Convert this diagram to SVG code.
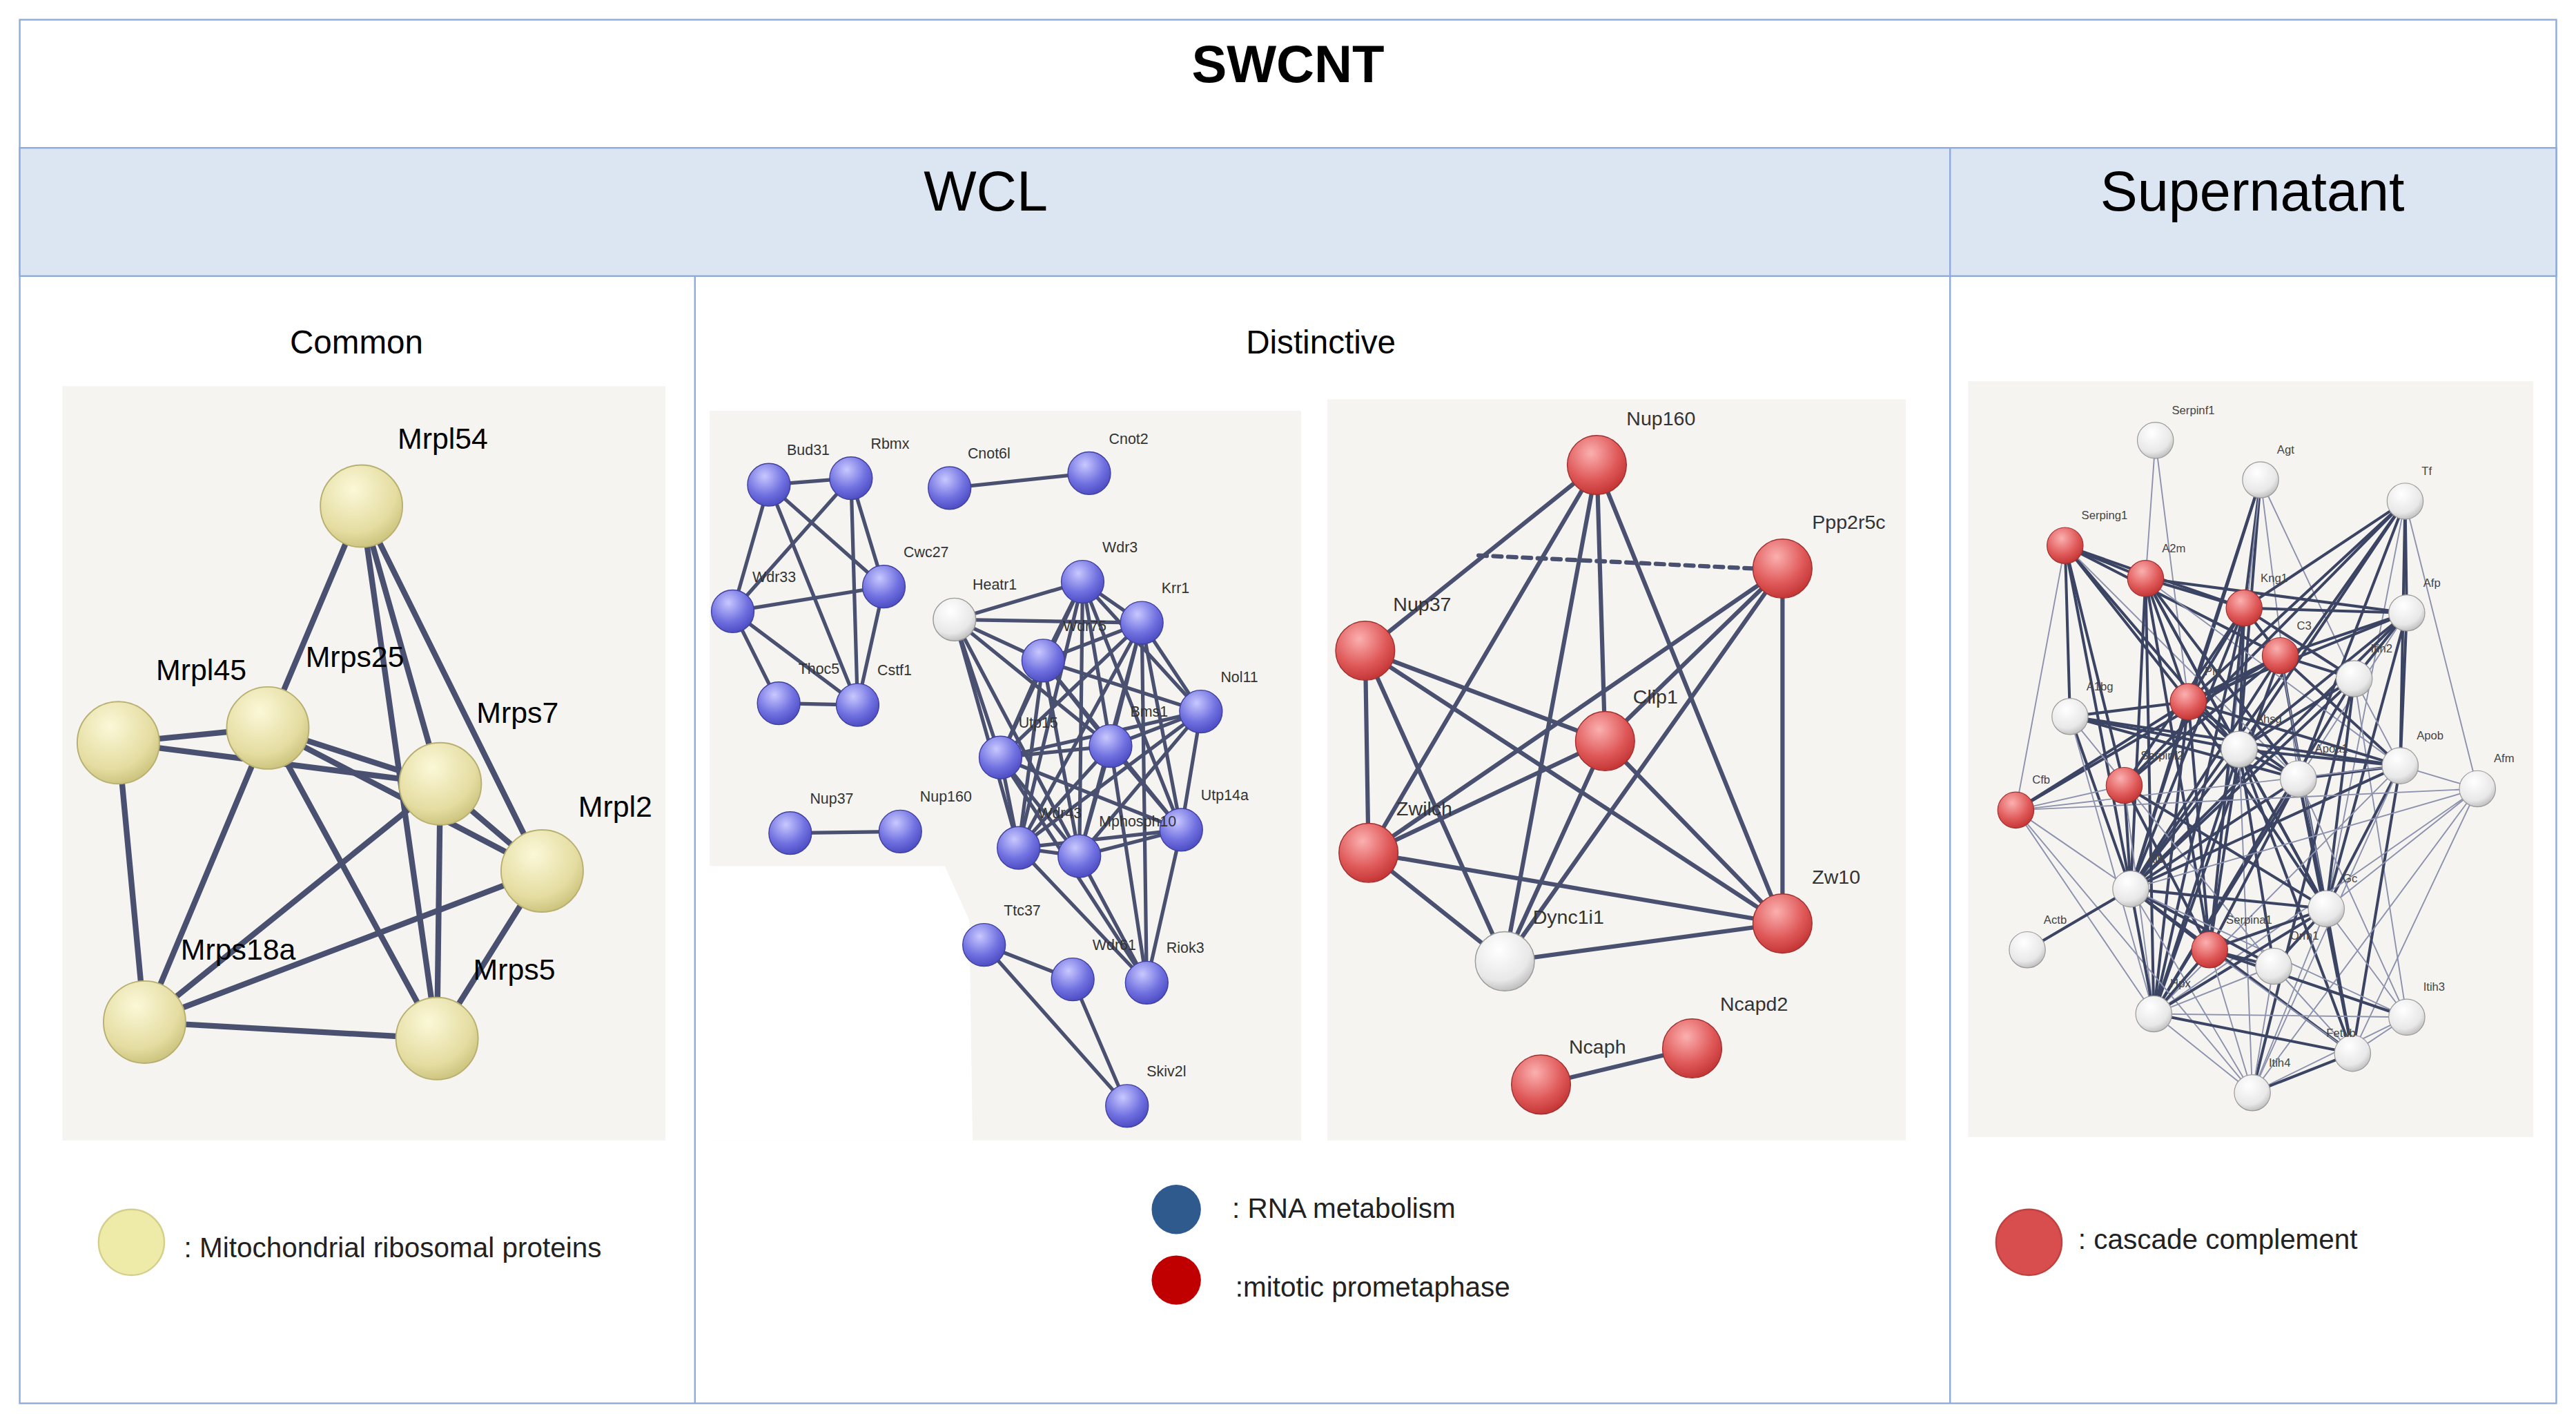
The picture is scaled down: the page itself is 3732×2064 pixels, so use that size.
<svg xmlns="http://www.w3.org/2000/svg" width="3732" height="2064" viewBox="0 0 3732 2064">
<defs>
<radialGradient id="gy" cx="0.4" cy="0.3" r="0.75"><stop offset="0" stop-color="#fbf8d8"/><stop offset="0.7" stop-color="#e4dca0"/><stop offset="1" stop-color="#c8bf78"/></radialGradient>
<radialGradient id="gb" cx="0.4" cy="0.3" r="0.75"><stop offset="0" stop-color="#c8c8ff"/><stop offset="0.6" stop-color="#7070e0"/><stop offset="1" stop-color="#4848c0"/></radialGradient>
<radialGradient id="gr" cx="0.4" cy="0.3" r="0.75"><stop offset="0" stop-color="#fbb0b0"/><stop offset="0.6" stop-color="#e05a5a"/><stop offset="1" stop-color="#c03030"/></radialGradient>
<radialGradient id="gw" cx="0.4" cy="0.3" r="0.75"><stop offset="0" stop-color="#ffffff"/><stop offset="0.7" stop-color="#e8e8e8"/><stop offset="1" stop-color="#b8b8b8"/></radialGradient>
<style>
text{font-family:"Liberation Sans",Arial,sans-serif;fill:#000}
.lb{font-size:9px;fill:#333}
.lr{font-size:12px;fill:#333}
.ls{font-size:7px;fill:#444}
.ly{font-size:17px;fill:#222}
.e{stroke:#4a5070;fill:none;stroke-linecap:round}
.ec{stroke-width:3.5}
.eb{stroke-width:2.2}
.er{stroke-width:2.6}
.st{stroke-width:1.7;stroke:#3c4464}
.sn{stroke-width:0.8;stroke:#8c92ae}
</style>
</defs>
<g transform="scale(2.380102)">
<g id="frame">
<rect x="12" y="12" width="1544" height="842" fill="#fff" stroke="#8eaadb" stroke-width="1"/>
<rect x="12" y="90" width="1544" height="78" fill="#dce6f2" stroke="#8eaadb" stroke-width="1"/>
<line x1="1187" y1="90" x2="1187" y2="854" stroke="#8eaadb"/>
<line x1="423" y1="168" x2="423" y2="854" stroke="#8eaadb"/>
<text x="784" y="50" font-size="32" font-weight="bold" text-anchor="middle">SWCNT</text>
<text x="600" y="128" font-size="34" text-anchor="middle">WCL</text>
<text x="1371" y="128" font-size="34" text-anchor="middle">Supernatant</text>
<text x="217" y="215" font-size="20" text-anchor="middle">Common</text>
<text x="804" y="215" font-size="20" text-anchor="middle">Distinctive</text>
<rect x="38" y="235" width="367" height="459" fill="#f5f4f0"/>
<rect x="432" y="250" width="360" height="444" fill="#f5f4f0"/>
<path d="M432 527 L575 527 L590 560 L592 694 L432 694 Z" fill="#fff"/>
<rect x="808" y="243" width="352" height="451" fill="#f5f4f0"/>
<rect x="1198" y="232" width="344" height="460" fill="#f5f4f0"/>
</g>
<g id="connectors">
<g class="e ec">
<line x1="220" y1="308" x2="163" y2="443"/><line x1="220" y1="308" x2="268" y2="477"/><line x1="220" y1="308" x2="330" y2="530"/><line x1="220" y1="308" x2="266" y2="632"/>
<line x1="72" y1="452" x2="163" y2="443"/><line x1="72" y1="452" x2="268" y2="477"/><line x1="72" y1="452" x2="88" y2="622"/>
<line x1="163" y1="443" x2="268" y2="477"/><line x1="163" y1="443" x2="88" y2="622"/><line x1="163" y1="443" x2="266" y2="632"/><line x1="163" y1="443" x2="330" y2="530"/>
<line x1="268" y1="477" x2="330" y2="530"/><line x1="268" y1="477" x2="266" y2="632"/><line x1="268" y1="477" x2="88" y2="622"/>
<line x1="330" y1="530" x2="88" y2="622"/><line x1="330" y1="530" x2="266" y2="632"/><line x1="88" y1="622" x2="266" y2="632"/>
</g>
<g class="e eb">
<line x1="468" y1="295" x2="518" y2="291"/><line x1="468" y1="295" x2="446" y2="372"/><line x1="468" y1="295" x2="538" y2="357"/><line x1="468" y1="295" x2="522" y2="429"/>
<line x1="518" y1="291" x2="446" y2="372"/><line x1="518" y1="291" x2="538" y2="357"/><line x1="518" y1="291" x2="522" y2="429"/>
<line x1="446" y1="372" x2="538" y2="357"/><line x1="446" y1="372" x2="474" y2="428"/><line x1="446" y1="372" x2="522" y2="429"/>
<line x1="538" y1="357" x2="522" y2="429"/><line x1="474" y1="428" x2="522" y2="429"/>
<line x1="578" y1="297" x2="663" y2="288"/><line x1="481" y1="507" x2="548" y2="506"/>
<line x1="581" y1="377" x2="659" y2="354"/><line x1="581" y1="377" x2="695" y2="379"/><line x1="581" y1="377" x2="635" y2="402"/><line x1="581" y1="377" x2="609" y2="461"/><line x1="581" y1="377" x2="676" y2="454"/><line x1="581" y1="377" x2="620" y2="516"/><line x1="581" y1="377" x2="657" y2="521"/>
<line x1="659" y1="354" x2="695" y2="379"/><line x1="659" y1="354" x2="635" y2="402"/><line x1="659" y1="354" x2="731" y2="433"/><line x1="659" y1="354" x2="609" y2="461"/><line x1="659" y1="354" x2="676" y2="454"/><line x1="659" y1="354" x2="719" y2="505"/><line x1="659" y1="354" x2="620" y2="516"/><line x1="659" y1="354" x2="657" y2="521"/>
<line x1="695" y1="379" x2="635" y2="402"/><line x1="695" y1="379" x2="731" y2="433"/><line x1="695" y1="379" x2="609" y2="461"/><line x1="695" y1="379" x2="676" y2="454"/><line x1="695" y1="379" x2="719" y2="505"/><line x1="695" y1="379" x2="620" y2="516"/><line x1="695" y1="379" x2="657" y2="521"/><line x1="695" y1="379" x2="698" y2="598"/>
<line x1="635" y1="402" x2="731" y2="433"/><line x1="635" y1="402" x2="609" y2="461"/><line x1="635" y1="402" x2="676" y2="454"/><line x1="635" y1="402" x2="719" y2="505"/><line x1="635" y1="402" x2="620" y2="516"/><line x1="635" y1="402" x2="657" y2="521"/>
<line x1="731" y1="433" x2="609" y2="461"/><line x1="731" y1="433" x2="676" y2="454"/><line x1="731" y1="433" x2="719" y2="505"/><line x1="731" y1="433" x2="620" y2="516"/><line x1="731" y1="433" x2="657" y2="521"/>
<line x1="609" y1="461" x2="676" y2="454"/><line x1="609" y1="461" x2="719" y2="505"/><line x1="609" y1="461" x2="620" y2="516"/><line x1="609" y1="461" x2="657" y2="521"/><line x1="609" y1="461" x2="698" y2="598"/>
<line x1="676" y1="454" x2="719" y2="505"/><line x1="676" y1="454" x2="620" y2="516"/><line x1="676" y1="454" x2="657" y2="521"/><line x1="676" y1="454" x2="698" y2="598"/>
<line x1="719" y1="505" x2="620" y2="516"/><line x1="719" y1="505" x2="657" y2="521"/><line x1="719" y1="505" x2="698" y2="598"/>
<line x1="620" y1="516" x2="657" y2="521"/><line x1="620" y1="516" x2="698" y2="598"/><line x1="657" y1="521" x2="698" y2="598"/>
<line x1="599" y1="575" x2="653" y2="596"/><line x1="599" y1="575" x2="686" y2="673"/><line x1="653" y1="596" x2="686" y2="673"/>
</g>
<g class="e er">
<line x1="831" y1="396" x2="972" y2="283"/><line x1="831" y1="396" x2="833" y2="519"/><line x1="831" y1="396" x2="977" y2="451"/><line x1="831" y1="396" x2="1085" y2="562"/><line x1="831" y1="396" x2="916" y2="585"/>
<line x1="972" y1="283" x2="977" y2="451"/><line x1="972" y1="283" x2="833" y2="519"/><line x1="972" y1="283" x2="916" y2="585"/><line x1="972" y1="283" x2="1085" y2="562"/>
<line x1="1085" y1="346" x2="977" y2="451"/><line x1="1085" y1="346" x2="833" y2="519"/><line x1="1085" y1="346" x2="916" y2="585"/><line x1="1085" y1="346" x2="1085" y2="562"/>
<line x1="977" y1="451" x2="833" y2="519"/><line x1="977" y1="451" x2="916" y2="585"/><line x1="977" y1="451" x2="1085" y2="562"/>
<line x1="833" y1="519" x2="916" y2="585"/><line x1="833" y1="519" x2="1085" y2="562"/><line x1="916" y1="585" x2="1085" y2="562"/>
<line x1="938" y1="660" x2="1030" y2="638"/>
<line x1="900" y1="338" x2="1068" y2="346" stroke-dasharray="5 4"/>
</g>
<g class="e">
<line class="sn" x1="1312" y1="268" x2="1306" y2="352"/><line class="sn" x1="1312" y1="268" x2="1332" y2="427"/>
<line class="st" x1="1376" y1="292" x2="1366" y2="370"/><line class="st" x1="1376" y1="292" x2="1332" y2="427"/><line class="st" x1="1376" y1="292" x2="1363" y2="456"/><line class="sn" x1="1376" y1="292" x2="1399" y2="474"/><line class="st" x1="1376" y1="292" x2="1297" y2="541"/><line class="sn" x1="1376" y1="292" x2="1433" y2="413"/><line class="sn" x1="1376" y1="292" x2="1345" y2="578"/>
<line class="st" x1="1464" y1="305" x2="1465" y2="373"/><line class="st" x1="1464" y1="305" x2="1366" y2="370"/><line class="st" x1="1464" y1="305" x2="1332" y2="427"/><line class="st" x1="1464" y1="305" x2="1363" y2="456"/><line class="st" x1="1464" y1="305" x2="1399" y2="474"/><line class="st" x1="1464" y1="305" x2="1297" y2="541"/><line class="sn" x1="1464" y1="305" x2="1416" y2="553"/><line class="sn" x1="1464" y1="305" x2="1508" y2="480"/><line class="st" x1="1464" y1="305" x2="1293" y2="478"/><line class="st" x1="1464" y1="305" x2="1461" y2="466"/>
<line class="st" x1="1257" y1="332" x2="1306" y2="352"/><line class="st" x1="1257" y1="332" x2="1366" y2="370"/><line class="st" x1="1257" y1="332" x2="1388" y2="399"/><line class="st" x1="1257" y1="332" x2="1332" y2="427"/><line class="st" x1="1257" y1="332" x2="1260" y2="436"/><line class="sn" x1="1257" y1="332" x2="1227" y2="493"/><line class="st" x1="1257" y1="332" x2="1293" y2="478"/><line class="st" x1="1257" y1="332" x2="1363" y2="456"/><line class="sn" x1="1257" y1="332" x2="1399" y2="474"/><line class="st" x1="1257" y1="332" x2="1297" y2="541"/>
<line class="st" x1="1306" y1="352" x2="1366" y2="370"/><line class="st" x1="1306" y1="352" x2="1332" y2="427"/><line class="st" x1="1306" y1="352" x2="1297" y2="541"/><line class="st" x1="1306" y1="352" x2="1363" y2="456"/><line class="st" x1="1306" y1="352" x2="1399" y2="474"/><line class="st" x1="1306" y1="352" x2="1345" y2="578"/><line class="st" x1="1306" y1="352" x2="1311" y2="617"/><line class="st" x1="1306" y1="352" x2="1465" y2="373"/><line class="sn" x1="1306" y1="352" x2="1461" y2="466"/><line class="st" x1="1306" y1="352" x2="1416" y2="553"/>
<line class="st" x1="1366" y1="370" x2="1388" y2="399"/><line class="st" x1="1366" y1="370" x2="1332" y2="427"/><line class="st" x1="1366" y1="370" x2="1297" y2="541"/><line class="st" x1="1366" y1="370" x2="1293" y2="478"/><line class="st" x1="1366" y1="370" x2="1363" y2="456"/><line class="st" x1="1366" y1="370" x2="1465" y2="373"/><line class="st" x1="1366" y1="370" x2="1433" y2="413"/><line class="st" x1="1366" y1="370" x2="1311" y2="617"/><line class="st" x1="1366" y1="370" x2="1345" y2="578"/>
<line class="st" x1="1388" y1="399" x2="1332" y2="427"/><line class="st" x1="1388" y1="399" x2="1227" y2="493"/><line class="st" x1="1388" y1="399" x2="1465" y2="373"/><line class="st" x1="1388" y1="399" x2="1461" y2="466"/><line class="st" x1="1388" y1="399" x2="1297" y2="541"/><line class="st" x1="1388" y1="399" x2="1416" y2="553"/><line class="st" x1="1388" y1="399" x2="1433" y2="413"/><line class="sn" x1="1388" y1="399" x2="1432" y2="641"/><line class="st" x1="1388" y1="399" x2="1293" y2="478"/><line class="st" x1="1388" y1="399" x2="1311" y2="617"/>
<line class="st" x1="1465" y1="373" x2="1297" y2="541"/><line class="st" x1="1465" y1="373" x2="1461" y2="466"/><line class="st" x1="1465" y1="373" x2="1433" y2="413"/><line class="st" x1="1465" y1="373" x2="1363" y2="456"/><line class="st" x1="1465" y1="373" x2="1416" y2="553"/><line class="st" x1="1465" y1="373" x2="1332" y2="427"/><line class="sn" x1="1465" y1="373" x2="1399" y2="474"/>
<line class="st" x1="1433" y1="413" x2="1371" y2="665"/><line class="sn" x1="1433" y1="413" x2="1465" y2="619"/><line class="st" x1="1433" y1="413" x2="1297" y2="541"/><line class="st" x1="1433" y1="413" x2="1363" y2="456"/><line class="st" x1="1433" y1="413" x2="1311" y2="617"/><line class="sn" x1="1433" y1="413" x2="1461" y2="466"/><line class="st" x1="1433" y1="413" x2="1416" y2="553"/>
<line class="st" x1="1332" y1="427" x2="1260" y2="436"/><line class="st" x1="1332" y1="427" x2="1297" y2="541"/><line class="st" x1="1332" y1="427" x2="1345" y2="578"/><line class="st" x1="1332" y1="427" x2="1363" y2="456"/><line class="st" x1="1332" y1="427" x2="1399" y2="474"/><line class="st" x1="1332" y1="427" x2="1461" y2="466"/><line class="st" x1="1332" y1="427" x2="1227" y2="493"/><line class="st" x1="1332" y1="427" x2="1416" y2="553"/><line class="st" x1="1332" y1="427" x2="1311" y2="617"/>
<line class="st" x1="1260" y1="436" x2="1297" y2="541"/><line class="st" x1="1260" y1="436" x2="1363" y2="456"/><line class="st" x1="1260" y1="436" x2="1399" y2="474"/><line class="sn" x1="1260" y1="436" x2="1311" y2="617"/><line class="sn" x1="1260" y1="436" x2="1384" y2="588"/><line class="st" x1="1260" y1="436" x2="1461" y2="466"/>
<line class="st" x1="1363" y1="456" x2="1399" y2="474"/><line class="st" x1="1363" y1="456" x2="1461" y2="466"/><line class="st" x1="1363" y1="456" x2="1297" y2="541"/><line class="st" x1="1363" y1="456" x2="1416" y2="553"/><line class="st" x1="1363" y1="456" x2="1311" y2="617"/><line class="st" x1="1363" y1="456" x2="1432" y2="641"/><line class="st" x1="1363" y1="456" x2="1384" y2="588"/><line class="st" x1="1363" y1="456" x2="1345" y2="578"/><line class="sn" x1="1363" y1="456" x2="1371" y2="665"/>
<line class="st" x1="1399" y1="474" x2="1461" y2="466"/><line class="st" x1="1399" y1="474" x2="1297" y2="541"/><line class="st" x1="1399" y1="474" x2="1416" y2="553"/><line class="st" x1="1399" y1="474" x2="1311" y2="617"/><line class="sn" x1="1399" y1="474" x2="1465" y2="619"/><line class="st" x1="1399" y1="474" x2="1432" y2="641"/><line class="st" x1="1399" y1="474" x2="1345" y2="578"/>
<line class="sn" x1="1461" y1="466" x2="1508" y2="480"/><line class="st" x1="1461" y1="466" x2="1297" y2="541"/><line class="st" x1="1461" y1="466" x2="1416" y2="553"/><line class="sn" x1="1461" y1="466" x2="1311" y2="617"/><line class="sn" x1="1461" y1="466" x2="1371" y2="665"/><line class="st" x1="1461" y1="466" x2="1432" y2="641"/>
<line class="sn" x1="1508" y1="480" x2="1297" y2="541"/><line class="sn" x1="1508" y1="480" x2="1416" y2="553"/><line class="sn" x1="1508" y1="480" x2="1311" y2="617"/><line class="sn" x1="1508" y1="480" x2="1371" y2="665"/><line class="sn" x1="1508" y1="480" x2="1432" y2="641"/><line class="sn" x1="1508" y1="480" x2="1227" y2="493"/>
<line class="sn" x1="1227" y1="493" x2="1293" y2="478"/><line class="sn" x1="1227" y1="493" x2="1297" y2="541"/><line class="sn" x1="1227" y1="493" x2="1311" y2="617"/><line class="sn" x1="1227" y1="493" x2="1461" y2="466"/><line class="sn" x1="1227" y1="493" x2="1371" y2="665"/>
<line class="st" x1="1293" y1="478" x2="1297" y2="541"/><line class="st" x1="1293" y1="478" x2="1345" y2="578"/><line class="st" x1="1293" y1="478" x2="1416" y2="553"/><line class="sn" x1="1293" y1="478" x2="1311" y2="617"/>
<line class="st" x1="1297" y1="541" x2="1234" y2="578"/><line class="st" x1="1297" y1="541" x2="1416" y2="553"/><line class="st" x1="1297" y1="541" x2="1345" y2="578"/><line class="st" x1="1297" y1="541" x2="1384" y2="588"/><line class="st" x1="1297" y1="541" x2="1311" y2="617"/><line class="sn" x1="1297" y1="541" x2="1371" y2="665"/><line class="st" x1="1297" y1="541" x2="1432" y2="641"/><line class="sn" x1="1297" y1="541" x2="1465" y2="619"/>
<line class="st" x1="1416" y1="553" x2="1345" y2="578"/><line class="st" x1="1416" y1="553" x2="1384" y2="588"/><line class="st" x1="1416" y1="553" x2="1311" y2="617"/><line class="sn" x1="1416" y1="553" x2="1465" y2="619"/><line class="st" x1="1416" y1="553" x2="1432" y2="641"/><line class="sn" x1="1416" y1="553" x2="1371" y2="665"/>
<line class="st" x1="1345" y1="578" x2="1311" y2="617"/><line class="st" x1="1345" y1="578" x2="1384" y2="588"/><line class="sn" x1="1345" y1="578" x2="1432" y2="641"/><line class="sn" x1="1345" y1="578" x2="1371" y2="665"/><line class="st" x1="1345" y1="578" x2="1465" y2="619"/>
<line class="sn" x1="1384" y1="588" x2="1311" y2="617"/><line class="sn" x1="1384" y1="588" x2="1371" y2="665"/><line class="sn" x1="1384" y1="588" x2="1432" y2="641"/>
<line class="sn" x1="1311" y1="617" x2="1371" y2="665"/><line class="st" x1="1311" y1="617" x2="1432" y2="641"/><line class="sn" x1="1311" y1="617" x2="1465" y2="619"/>
<line class="sn" x1="1465" y1="619" x2="1371" y2="665"/><line class="sn" x1="1465" y1="619" x2="1432" y2="641"/><line class="st" x1="1432" y1="641" x2="1371" y2="665"/>
</g>
</g>
<g id="common-nodes">
<g fill="url(#gy)" stroke="#b8b070" stroke-width="0.8">
<circle cx="220" cy="308" r="25"/><circle cx="72" cy="452" r="25"/><circle cx="163" cy="443" r="25"/><circle cx="268" cy="477" r="25"/><circle cx="330" cy="530" r="25"/><circle cx="88" cy="622" r="25"/><circle cx="266" cy="632" r="25"/>
</g>
<g font-size="18" style="font-size:18px">
<text x="242" y="273" style="font-size:18px">Mrpl54</text><text x="95" y="414" style="font-size:18px">Mrpl45</text><text x="186" y="406" style="font-size:18px">Mrps25</text><text x="290" y="440" style="font-size:18px">Mrps7</text><text x="352" y="497" style="font-size:18px">Mrpl2</text><text x="110" y="584" style="font-size:18px">Mrps18a</text><text x="288" y="596" style="font-size:18px">Mrps5</text>
</g>
</g>
<g id="distinctive-rna-nodes">
<g fill="url(#gb)" stroke="#4040a0" stroke-width="0.6">
<circle cx="468" cy="295" r="13"/><circle cx="518" cy="291" r="13"/><circle cx="578" cy="297" r="13"/><circle cx="663" cy="288" r="13"/><circle cx="446" cy="372" r="13"/><circle cx="538" cy="357" r="13"/><circle cx="659" cy="354" r="13"/><circle cx="695" cy="379" r="13"/><circle cx="635" cy="402" r="13"/><circle cx="474" cy="428" r="13"/><circle cx="522" cy="429" r="13"/><circle cx="731" cy="433" r="13"/><circle cx="609" cy="461" r="13"/><circle cx="676" cy="454" r="13"/><circle cx="481" cy="507" r="13"/><circle cx="548" cy="506" r="13"/><circle cx="719" cy="505" r="13"/><circle cx="620" cy="516" r="13"/><circle cx="657" cy="521" r="13"/><circle cx="599" cy="575" r="13"/><circle cx="653" cy="596" r="13"/><circle cx="698" cy="598" r="13"/><circle cx="686" cy="673" r="13"/>
</g>
<circle cx="581" cy="377" r="13" fill="url(#gw)" stroke="#999" stroke-width="0.6"/>
<text class="lb" x="479" y="277">Bud31</text><text class="lb" x="530" y="273">Rbmx</text><text class="lb" x="589" y="279">Cnot6l</text><text class="lb" x="675" y="270">Cnot2</text><text class="lb" x="458" y="354">Wdr33</text><text class="lb" x="550" y="339">Cwc27</text><text class="lb" x="592" y="359">Heatr1</text><text class="lb" x="671" y="336">Wdr3</text><text class="lb" x="707" y="361">Krr1</text><text class="lb" x="647" y="384">Wdr75</text><text class="lb" x="486" y="410">Thoc5</text><text class="lb" x="534" y="411">Cstf1</text><text class="lb" x="743" y="415">Nol11</text><text class="lb" x="620" y="443">Utp15</text><text class="lb" x="688" y="436">Bms1</text><text class="lb" x="493" y="489">Nup37</text><text class="lb" x="560" y="488">Nup160</text><text class="lb" x="731" y="487">Utp14a</text><text class="lb" x="632" y="498">Wdr43</text><text class="lb" x="669" y="503">Mphosph10</text><text class="lb" x="611" y="557">Ttc37</text><text class="lb" x="665" y="578">Wdr61</text><text class="lb" x="710" y="580">Riok3</text><text class="lb" x="698" y="655">Skiv2l</text>
</g>
<g id="distinctive-mitotic-nodes">
<g fill="url(#gr)" stroke="#a03030" stroke-width="0.6">
<circle cx="972" cy="283" r="18"/><circle cx="1085" cy="346" r="18"/><circle cx="831" cy="396" r="18"/><circle cx="977" cy="451" r="18"/><circle cx="833" cy="519" r="18"/><circle cx="1085" cy="562" r="18"/><circle cx="938" cy="660" r="18"/><circle cx="1030" cy="638" r="18"/>
</g>
<circle cx="916" cy="585" r="18" fill="url(#gw)" stroke="#999" stroke-width="0.6"/>
<text class="lr" x="990" y="259">Nup160</text><text class="lr" x="1103" y="322">Ppp2r5c</text><text class="lr" x="848" y="372">Nup37</text><text class="lr" x="994" y="428">Clip1</text><text class="lr" x="850" y="496">Zwilch</text><text class="lr" x="1103" y="538">Zw10</text><text class="lr" x="933" y="562">Dync1i1</text><text class="lr" x="955" y="641">Ncaph</text><text class="lr" x="1047" y="615">Ncapd2</text>
</g>
<g id="supernatant-nodes">
<g fill="url(#gw)" stroke="#999" stroke-width="0.5">
<circle cx="1312" cy="268" r="11"/><circle cx="1376" cy="292" r="11"/><circle cx="1464" cy="305" r="11"/><circle cx="1465" cy="373" r="11"/><circle cx="1433" cy="413" r="11"/><circle cx="1260" cy="436" r="11"/><circle cx="1363" cy="456" r="11"/><circle cx="1399" cy="474" r="11"/><circle cx="1461" cy="466" r="11"/><circle cx="1508" cy="480" r="11"/><circle cx="1297" cy="541" r="11"/><circle cx="1416" cy="553" r="11"/><circle cx="1234" cy="578" r="11"/><circle cx="1384" cy="588" r="11"/><circle cx="1311" cy="617" r="11"/><circle cx="1465" cy="619" r="11"/><circle cx="1432" cy="641" r="11"/><circle cx="1371" cy="665" r="11"/>
</g>
<g fill="url(#gr)" stroke="#a03030" stroke-width="0.5">
<circle cx="1257" cy="332" r="11"/><circle cx="1306" cy="352" r="11"/><circle cx="1366" cy="370" r="11"/><circle cx="1388" cy="399" r="11"/><circle cx="1332" cy="427" r="11"/><circle cx="1227" cy="493" r="11"/><circle cx="1293" cy="478" r="11"/><circle cx="1345" cy="578" r="11"/>
</g>
<text class="ls" x="1322" y="252">Serpinf1</text><text class="ls" x="1386" y="276">Agt</text><text class="ls" x="1474" y="289">Tf</text><text class="ls" x="1267" y="316">Serping1</text><text class="ls" x="1316" y="336">A2m</text><text class="ls" x="1376" y="354">Kng1</text><text class="ls" x="1398" y="383">C3</text><text class="ls" x="1475" y="357">Afp</text><text class="ls" x="1443" y="397">Itih2</text><text class="ls" x="1342" y="411">Plg</text><text class="ls" x="1270" y="420">A1bg</text><text class="ls" x="1373" y="440">Ahsg</text><text class="ls" x="1409" y="458">Apoa1</text><text class="ls" x="1471" y="450">Apob</text><text class="ls" x="1518" y="464">Afm</text><text class="ls" x="1237" y="477">Cfb</text><text class="ls" x="1303" y="462">Serpinf2</text><text class="ls" x="1307" y="525">Alb</text><text class="ls" x="1426" y="537">Gc</text><text class="ls" x="1244" y="562">Actb</text><text class="ls" x="1355" y="562">Serpina1</text><text class="ls" x="1394" y="572">Orm1</text><text class="ls" x="1321" y="601">Hpx</text><text class="ls" x="1475" y="603">Itih3</text><text class="ls" x="1416" y="631">Fetub</text><text class="ls" x="1381" y="649">Itih4</text>
</g>
<g id="legends">
<circle cx="80" cy="756" r="20" fill="#eeeaa8" stroke="#d4cf8a"/>
<text class="ly" x="112" y="765">: Mitochondrial ribosomal proteins</text>
<circle cx="716" cy="736" r="15" fill="#2e5a8e"/>
<text class="ly" x="750" y="741">:  RNA metabolism</text>
<circle cx="716" cy="779" r="15" fill="#c00000"/>
<text class="ly" x="752" y="789">:mitotic prometaphase</text>
<circle cx="1235" cy="756" r="20" fill="#d84d4d" stroke="#c04040"/>
<text class="ly" x="1265" y="760">: cascade complement</text>
</g>
</g>
</svg>
